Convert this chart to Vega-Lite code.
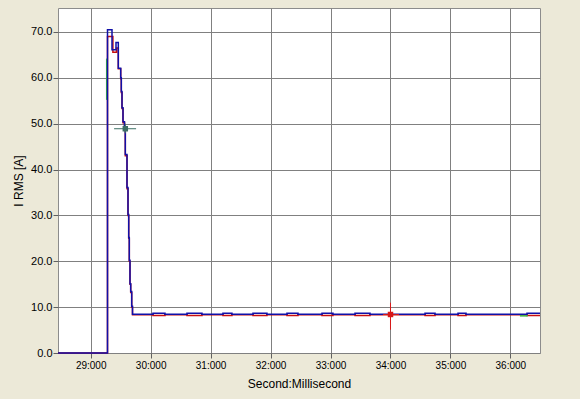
{
  "$schema": "https://vega.github.io/schema/vega-lite/v6.json",
  "width": 482,
  "height": 345,
  "autosize": {"type": "none"},
  "padding": {"left": 58, "top": 8, "right": 40, "bottom": 46},
  "background": "#ECE9D8",
  "config": {
    "view": {"fill": "#FFFFFF", "stroke": "#8C8C8C", "strokeWidth": 1},
    "axis": {
      "labelFont": "Liberation Sans",
      "labelFontSize": 11,
      "labelColor": "#000000",
      "titleFont": "Liberation Sans",
      "titleFontSize": 12,
      "titleFontWeight": "normal",
      "titleColor": "#000000",
      "gridColor": "#808080",
      "gridOpacity": 1,
      "gridWidth": 1,
      "tickColor": "#606060",
      "tickSize": 5,
      "domain": false
    }
  },
  "datasets": {
    "series": [
      {"s": "red", "t": 28.4545, "v": 0},
      {"s": "red", "t": 29.2802, "v": 69.0},
      {"s": "red", "t": 29.37, "v": 65.6},
      {"s": "red", "t": 29.43, "v": 66.5},
      {"s": "red", "t": 29.4604, "v": 62.0},
      {"s": "red", "t": 29.5004, "v": 59.8},
      {"s": "red", "t": 29.5104, "v": 56.8},
      {"s": "red", "t": 29.5221, "v": 53.3},
      {"s": "red", "t": 29.5388, "v": 50.2},
      {"s": "red", "t": 29.5638, "v": 48.6},
      {"s": "red", "t": 29.5772, "v": 43.0},
      {"s": "red", "t": 29.6055, "v": 35.8},
      {"s": "red", "t": 29.6222, "v": 30.0},
      {"s": "red", "t": 29.6339, "v": 25.0},
      {"s": "red", "t": 29.6439, "v": 20.0},
      {"s": "red", "t": 29.6555, "v": 15.0},
      {"s": "red", "t": 29.6672, "v": 13.2},
      {"s": "red", "t": 29.6839, "v": 10.0},
      {"s": "red", "t": 29.6972, "v": 8.35},
      {"s": "red", "t": 30.039, "v": 8.2},
      {"s": "red", "t": 30.239, "v": 8.35},
      {"s": "red", "t": 30.606, "v": 8.2},
      {"s": "red", "t": 30.856, "v": 8.35},
      {"s": "red", "t": 31.206, "v": 8.2},
      {"s": "red", "t": 31.356, "v": 8.35},
      {"s": "red", "t": 31.707, "v": 8.2},
      {"s": "red", "t": 31.94, "v": 8.35},
      {"s": "red", "t": 32.274, "v": 8.2},
      {"s": "red", "t": 32.458, "v": 8.35},
      {"s": "red", "t": 32.858, "v": 8.2},
      {"s": "red", "t": 33.041, "v": 8.35},
      {"s": "red", "t": 33.409, "v": 8.2},
      {"s": "red", "t": 33.659, "v": 8.35},
      {"s": "red", "t": 34.577, "v": 8.2},
      {"s": "red", "t": 34.744, "v": 8.35},
      {"s": "red", "t": 35.127, "v": 8.2},
      {"s": "red", "t": 35.261, "v": 8.35},
      {"s": "red", "t": 36.278, "v": 8.2},
      {"s": "red", "t": 36.4946, "v": 8.2},
      {"s": "blue", "t": 28.4545, "v": 0},
      {"s": "blue", "t": 29.2802, "v": 70.5},
      {"s": "blue", "t": 29.3553, "v": 66.1},
      {"s": "blue", "t": 29.422, "v": 67.7},
      {"s": "blue", "t": 29.4604, "v": 62.1},
      {"s": "blue", "t": 29.5004, "v": 60.0},
      {"s": "blue", "t": 29.5104, "v": 57.0},
      {"s": "blue", "t": 29.5221, "v": 53.5},
      {"s": "blue", "t": 29.5388, "v": 50.4},
      {"s": "blue", "t": 29.5638, "v": 48.9},
      {"s": "blue", "t": 29.5772, "v": 43.3},
      {"s": "blue", "t": 29.6055, "v": 36.1},
      {"s": "blue", "t": 29.6222, "v": 30.2},
      {"s": "blue", "t": 29.6339, "v": 25.2},
      {"s": "blue", "t": 29.6439, "v": 20.2},
      {"s": "blue", "t": 29.6555, "v": 15.1},
      {"s": "blue", "t": 29.6672, "v": 13.4},
      {"s": "blue", "t": 29.6839, "v": 10.2},
      {"s": "blue", "t": 29.6972, "v": 8.45},
      {"s": "blue", "t": 30.039, "v": 8.65},
      {"s": "blue", "t": 30.239, "v": 8.45},
      {"s": "blue", "t": 30.606, "v": 8.65},
      {"s": "blue", "t": 30.856, "v": 8.45},
      {"s": "blue", "t": 31.206, "v": 8.65},
      {"s": "blue", "t": 31.356, "v": 8.45},
      {"s": "blue", "t": 31.707, "v": 8.65},
      {"s": "blue", "t": 31.94, "v": 8.45},
      {"s": "blue", "t": 32.274, "v": 8.65},
      {"s": "blue", "t": 32.458, "v": 8.45},
      {"s": "blue", "t": 32.858, "v": 8.65},
      {"s": "blue", "t": 33.041, "v": 8.45},
      {"s": "blue", "t": 33.409, "v": 8.65},
      {"s": "blue", "t": 33.659, "v": 8.45},
      {"s": "blue", "t": 34.577, "v": 8.65},
      {"s": "blue", "t": 34.744, "v": 8.45},
      {"s": "blue", "t": 35.127, "v": 8.65},
      {"s": "blue", "t": 35.261, "v": 8.45},
      {"s": "blue", "t": 36.278, "v": 8.65},
      {"s": "blue", "t": 36.4946, "v": 8.65}
    ],
    "rules": [
      {"c": "green", "t": 29.2669, "t2": 29.2669, "v": 55.2, "v2": 64.2},
      {"c": "green", "t": 36.16, "t2": 36.29, "v": 8.1, "v2": 8.1},
      {"c": "teal", "t": 29.39, "t2": 29.757, "v": 48.9, "v2": 48.9},
      {"c": "teal", "t": 29.5772, "t2": 29.5772, "v": 47.9, "v2": 50.0},
      {"c": "red", "t": 33.876, "t2": 34.143, "v": 8.4, "v2": 8.4},
      {"c": "red", "t": 34.0008, "t2": 34.0008, "v": 5.08, "v2": 10.97}
    ],
    "markers": [
      {"c": "teal", "t": 29.5772, "v": 48.9},
      {"c": "red", "t": 34.0008, "v": 8.4}
    ]
  },
  "encoding": {
    "x": {
      "field": "t",
      "type": "quantitative",
      "scale": {"domain": [28.4545, 36.4946], "nice": false, "zero": false},
      "axis": {
        "title": "Second:Millisecond",
        "values": [29, 30, 31, 32, 33, 34, 35, 36],
        "labelExpr": "format(datum.value, 'd') + ':000'",
        "labelPadding": 2,
        "labelFontSize": 10,
        "titleFontSize": 12,
        "titleY": 30,
        "titleBaseline": "middle"
      }
    },
    "y": {
      "field": "v",
      "type": "quantitative",
      "scale": {"domain": [0, 75.23], "nice": false},
      "axis": {
        "title": "I RMS [A]",
        "values": [0, 10, 20, 30, 40, 50, 60, 70],
        "format": ".1f",
        "labelPadding": 1,
        "titleX": -40,
        "titleBaseline": "middle"
      }
    }
  },
  "layer": [
    {
      "data": {"name": "series"},
      "transform": [{"filter": "datum.s == 'red'"}],
      "mark": {"type": "line", "interpolate": "step-after", "color": "#C81010", "strokeWidth": 1.5}
    },
    {
      "data": {"name": "rules"},
      "transform": [{"filter": "datum.c == 'green'"}],
      "mark": {"type": "rule", "color": "#3CB43C", "strokeWidth": 1.5},
      "encoding": {
        "x2": {"field": "t2"},
        "y2": {"field": "v2"}
      }
    },
    {
      "data": {"name": "series"},
      "transform": [{"filter": "datum.s == 'blue'"}],
      "mark": {"type": "line", "interpolate": "step-after", "color": "#1010A8", "strokeWidth": 1.5}
    },
    {
      "data": {"name": "rules"},
      "transform": [{"filter": "datum.c != 'green'"}],
      "mark": {"type": "rule", "strokeWidth": 1},
      "encoding": {
        "x2": {"field": "t2"},
        "y2": {"field": "v2"},
        "color": {"field": "c", "type": "nominal", "scale": {"domain": ["teal", "red"], "range": ["#3C6E64", "#D81818"]}, "legend": null}
      }
    },
    {
      "data": {"name": "markers"},
      "mark": {"type": "point", "shape": "square", "filled": true, "size": 30, "opacity": 1},
      "encoding": {
        "color": {"field": "c", "type": "nominal", "scale": {"domain": ["teal", "red"], "range": ["#3C6E64", "#D81818"]}, "legend": null}
      }
    }
  ]
}
